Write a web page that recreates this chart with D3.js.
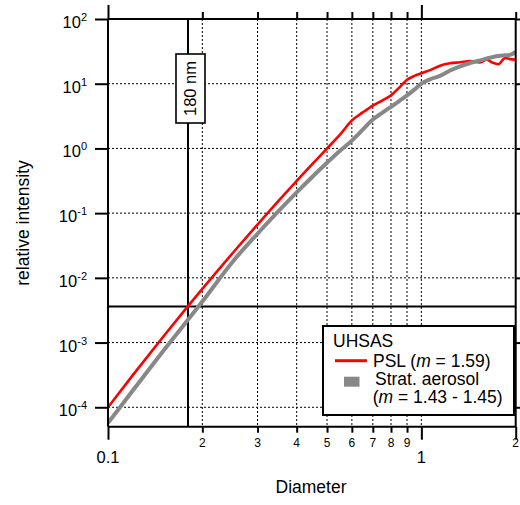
<!DOCTYPE html>
<html><head><meta charset="utf-8">
<script src="https://cdn.jsdelivr.net/npm/d3@7"></script>
<style>
body{margin:0;background:#fff;}
text{font-family:"Liberation Sans",Arial,sans-serif;fill:#000;}
</style></head>
<body><svg id="c" width="520" height="505"></svg>
<script>
// ---- data ----
const pslDiameter = [0.10,0.12,0.15,0.18,0.20,0.25,0.30,0.35,0.40,0.45,0.50,0.55,0.60,0.65,0.70,0.75,0.80,0.85,0.90,0.95,1.00,1.066,1.147,1.235,1.329,1.43,1.539,1.617,1.678,1.762,1.85,1.919,2.0];
const pslIntensity = [1.0e-4,3.14e-4,1.23e-3,3.65e-3,6.75e-3,0.0242,0.0667,0.155,0.314,0.581,1.0,1.63,2.7,3.6,4.6,5.5,6.6,8.7,11.5,13.2,14.5,16.2,19,20.7,21.4,22.4,21.4,23.4,21.4,20,25,24,23.4];
const stratDiameter = [0.10,0.12,0.15,0.20,0.25,0.30,0.35,0.40,0.45,0.50,0.55,0.60,0.65,0.70,0.75,0.80,0.85,0.90,0.95,1.00,1.066,1.147,1.235,1.329,1.43,1.539,1.617,1.762,1.85,1.919,2.0];
const stratIntensity = [5.7e-5,1.82e-4,7.4e-4,4.3e-3,0.0178,0.048,0.107,0.209,0.369,0.60,0.92,1.32,1.95,2.8,3.55,4.4,5.4,6.6,8.1,10,11.7,13.2,16,18.6,20.9,22.9,24.5,26.9,27.5,27.9,30.9];
const xMinorTicks = [0.2,0.3,0.4,0.5,0.6,0.7,0.8,0.9];
const xMinorLabels = ["2","3","4","5","6","7","8","9"];
const xMajorTicks = [0.1,1];
const xMajorLabels = ["0.1","1"];
const yTickExponents = [-4,-3,-2,-1,0,1,2];
const markerDiameter = 0.18;
const markerIntensity = 3.6e-3;
const markerLabel = "180 nm";

const svg = d3.select("#c");
const x = d3.scaleLog().domain([0.1, 2]).range([108, 515.7]);
const y = d3.scaleLog().domain([Math.pow(10,-4.3), 100]).range([426.7, 19]);
const X0 = x.range()[0], X1 = x.range()[1], Y0 = y.range()[0], Y1 = y.range()[1];

// grid
const grid = svg.append("g").attr("stroke","#000").attr("stroke-width",1).attr("stroke-dasharray","2,2");
grid.selectAll(".gv").data(xMinorTicks.concat([1])).join("line")
  .attr("x1",d=>x(d)).attr("x2",d=>x(d)).attr("y1",Y1).attr("y2",Y0);
grid.selectAll(".gh").data(yTickExponents.filter(e=>e<2)).join("line")
  .attr("x1",X0).attr("x2",X1).attr("y1",d=>y(Math.pow(10,d))).attr("y2",d=>y(Math.pow(10,d)));

// marker cross-hair
svg.append("line").attr("x1",x(markerDiameter)).attr("x2",x(markerDiameter)).attr("y1",Y1).attr("y2",Y0)
  .attr("stroke","#000").attr("stroke-width",2);
svg.append("line").attr("x1",X0).attr("x2",X1).attr("y1",y(markerIntensity)).attr("y2",y(markerIntensity))
  .attr("stroke","#000").attr("stroke-width",2);

// curves
svg.append("clipPath").attr("id","clip").append("rect").attr("x",X0).attr("y",Y1).attr("width",X1-X0).attr("height",Y0-Y1);
const line = d3.line().x(d=>x(d[0])).y(d=>y(d[1])).curve(d3.curveMonotoneX);
const g = svg.append("g").attr("clip-path","url(#clip)");
g.append("path").datum(pslDiameter.map((d,i)=>[d,pslIntensity[i]])).attr("d",line)
  .attr("fill","none").attr("stroke","#ff0000").attr("stroke-width",2.6);
g.append("path").datum(stratDiameter.map((d,i)=>[d,stratIntensity[i]])).attr("d",line)
  .attr("fill","none").attr("stroke","#888888").attr("stroke-width",4);

// axes (ticks via d3 axes)
function styleAxis(sel){ sel.select(".domain").remove(); sel.selectAll(".tick line").attr("stroke","#000").attr("stroke-width",2); sel.selectAll("text").remove(); }
svg.append("g").attr("transform",`translate(0,${Y0})`).call(d3.axisBottom(x).tickValues(xMinorTicks).tickSize(6)).call(styleAxis);
svg.append("g").attr("transform",`translate(0,${Y0})`).call(d3.axisBottom(x).tickValues(xMajorTicks.concat([2])).tickSize(13)).call(styleAxis);
svg.append("g").attr("transform",`translate(0,${Y1})`).call(d3.axisTop(x).tickValues(xMinorTicks.concat([2])).tickSize(7)).call(styleAxis);
svg.append("g").attr("transform",`translate(0,${Y1})`).call(d3.axisTop(x).tickValues(xMajorTicks).tickSize(14)).call(styleAxis);
const yVals = yTickExponents.map(e=>Math.pow(10,e));
svg.append("g").attr("transform",`translate(${X0},0)`).call(d3.axisLeft(y).tickValues(yVals).tickSize(13)).call(styleAxis);
svg.append("g").attr("transform",`translate(${X1},0)`).call(d3.axisRight(y).tickValues(yVals).tickSize(13)).call(styleAxis);

// frame
const fr = svg.append("g").attr("stroke","#000").attr("stroke-width",2);
fr.append("line").attr("x1",X0).attr("x2",X0).attr("y1",Y1).attr("y2",Y0);
fr.append("line").attr("x1",X1).attr("x2",X1).attr("y1",Y1).attr("y2",Y0);
fr.append("line").attr("x1",X0).attr("x2",X1).attr("y1",Y1).attr("y2",Y1);
fr.append("line").attr("x1",X0).attr("x2",X1).attr("y1",Y0).attr("y2",Y0);

// tick labels
svg.selectAll(".xl").data(xMinorTicks).join("text").attr("x",d=>x(d)).attr("y",447)
  .attr("text-anchor","middle").attr("font-size",12).text((d,i)=>xMinorLabels[i]);
svg.append("text").attr("x",x(2)).attr("y",447).attr("text-anchor","middle").attr("font-size",12).text("2");
svg.selectAll(".xL").data(xMajorTicks).join("text").attr("x",d=>x(d)).attr("y",463)
  .attr("text-anchor","middle").attr("font-size",16.5).text((d,i)=>xMajorLabels[i]);
const yl = svg.selectAll(".yl").data(yTickExponents).join("text")
  .attr("x",87).attr("y",d=>y(Math.pow(10,d))+9).attr("text-anchor","end").attr("font-size",16.5);
yl.append("tspan").text("10");
yl.append("tspan").attr("font-size",11).attr("dy",-7).text(d=>String(d));

// axis titles
svg.append("text").attr("x",311).attr("y",493).attr("text-anchor","middle").attr("font-size",17.5).text("Diameter");
svg.append("text").attr("transform","translate(29,223) rotate(-90)").attr("text-anchor","middle").attr("font-size",17.5).text("relative intensity");

// marker label box
const mx = x(markerDiameter);
svg.append("rect").attr("x",mx-12).attr("y",54).attr("width",29).attr("height",69).attr("fill","#fff").attr("stroke","#000").attr("stroke-width",1.6);
svg.append("text").attr("transform",`translate(${mx+8.5},88.5) rotate(-90)`).attr("text-anchor","middle").attr("font-size",16.5).text(markerLabel);

// legend
const lg = svg.append("g");
lg.append("rect").attr("x",323).attr("y",326).attr("width",191).attr("height",89).attr("fill","#fff").attr("stroke","#000").attr("stroke-width",2);
lg.append("text").attr("x",333).attr("y",346.5).attr("font-size",17.5).text("UHSAS");
lg.append("line").attr("x1",335).attr("x2",367).attr("y1",360.7).attr("y2",360.7).attr("stroke","#ff0000").attr("stroke-width",3);
const t1 = lg.append("text").attr("x",373).attr("y",366.5).attr("font-size",17.5);
t1.append("tspan").text("PSL (");
t1.append("tspan").attr("font-style","italic").text("m");
t1.append("tspan").text(" = 1.59)");
lg.append("rect").attr("x",344).attr("y",376.7).attr("width",15.5).attr("height",10).attr("fill","#888888");
lg.append("text").attr("x",375).attr("y",385).attr("font-size",17.5).text("Strat. aerosol");
const t2 = lg.append("text").attr("x",372.7).attr("y",403.3).attr("font-size",17.5);
t2.append("tspan").text("(");
t2.append("tspan").attr("font-style","italic").text("m");
t2.append("tspan").text(" = 1.43 - 1.45)");
</script></body></html>
